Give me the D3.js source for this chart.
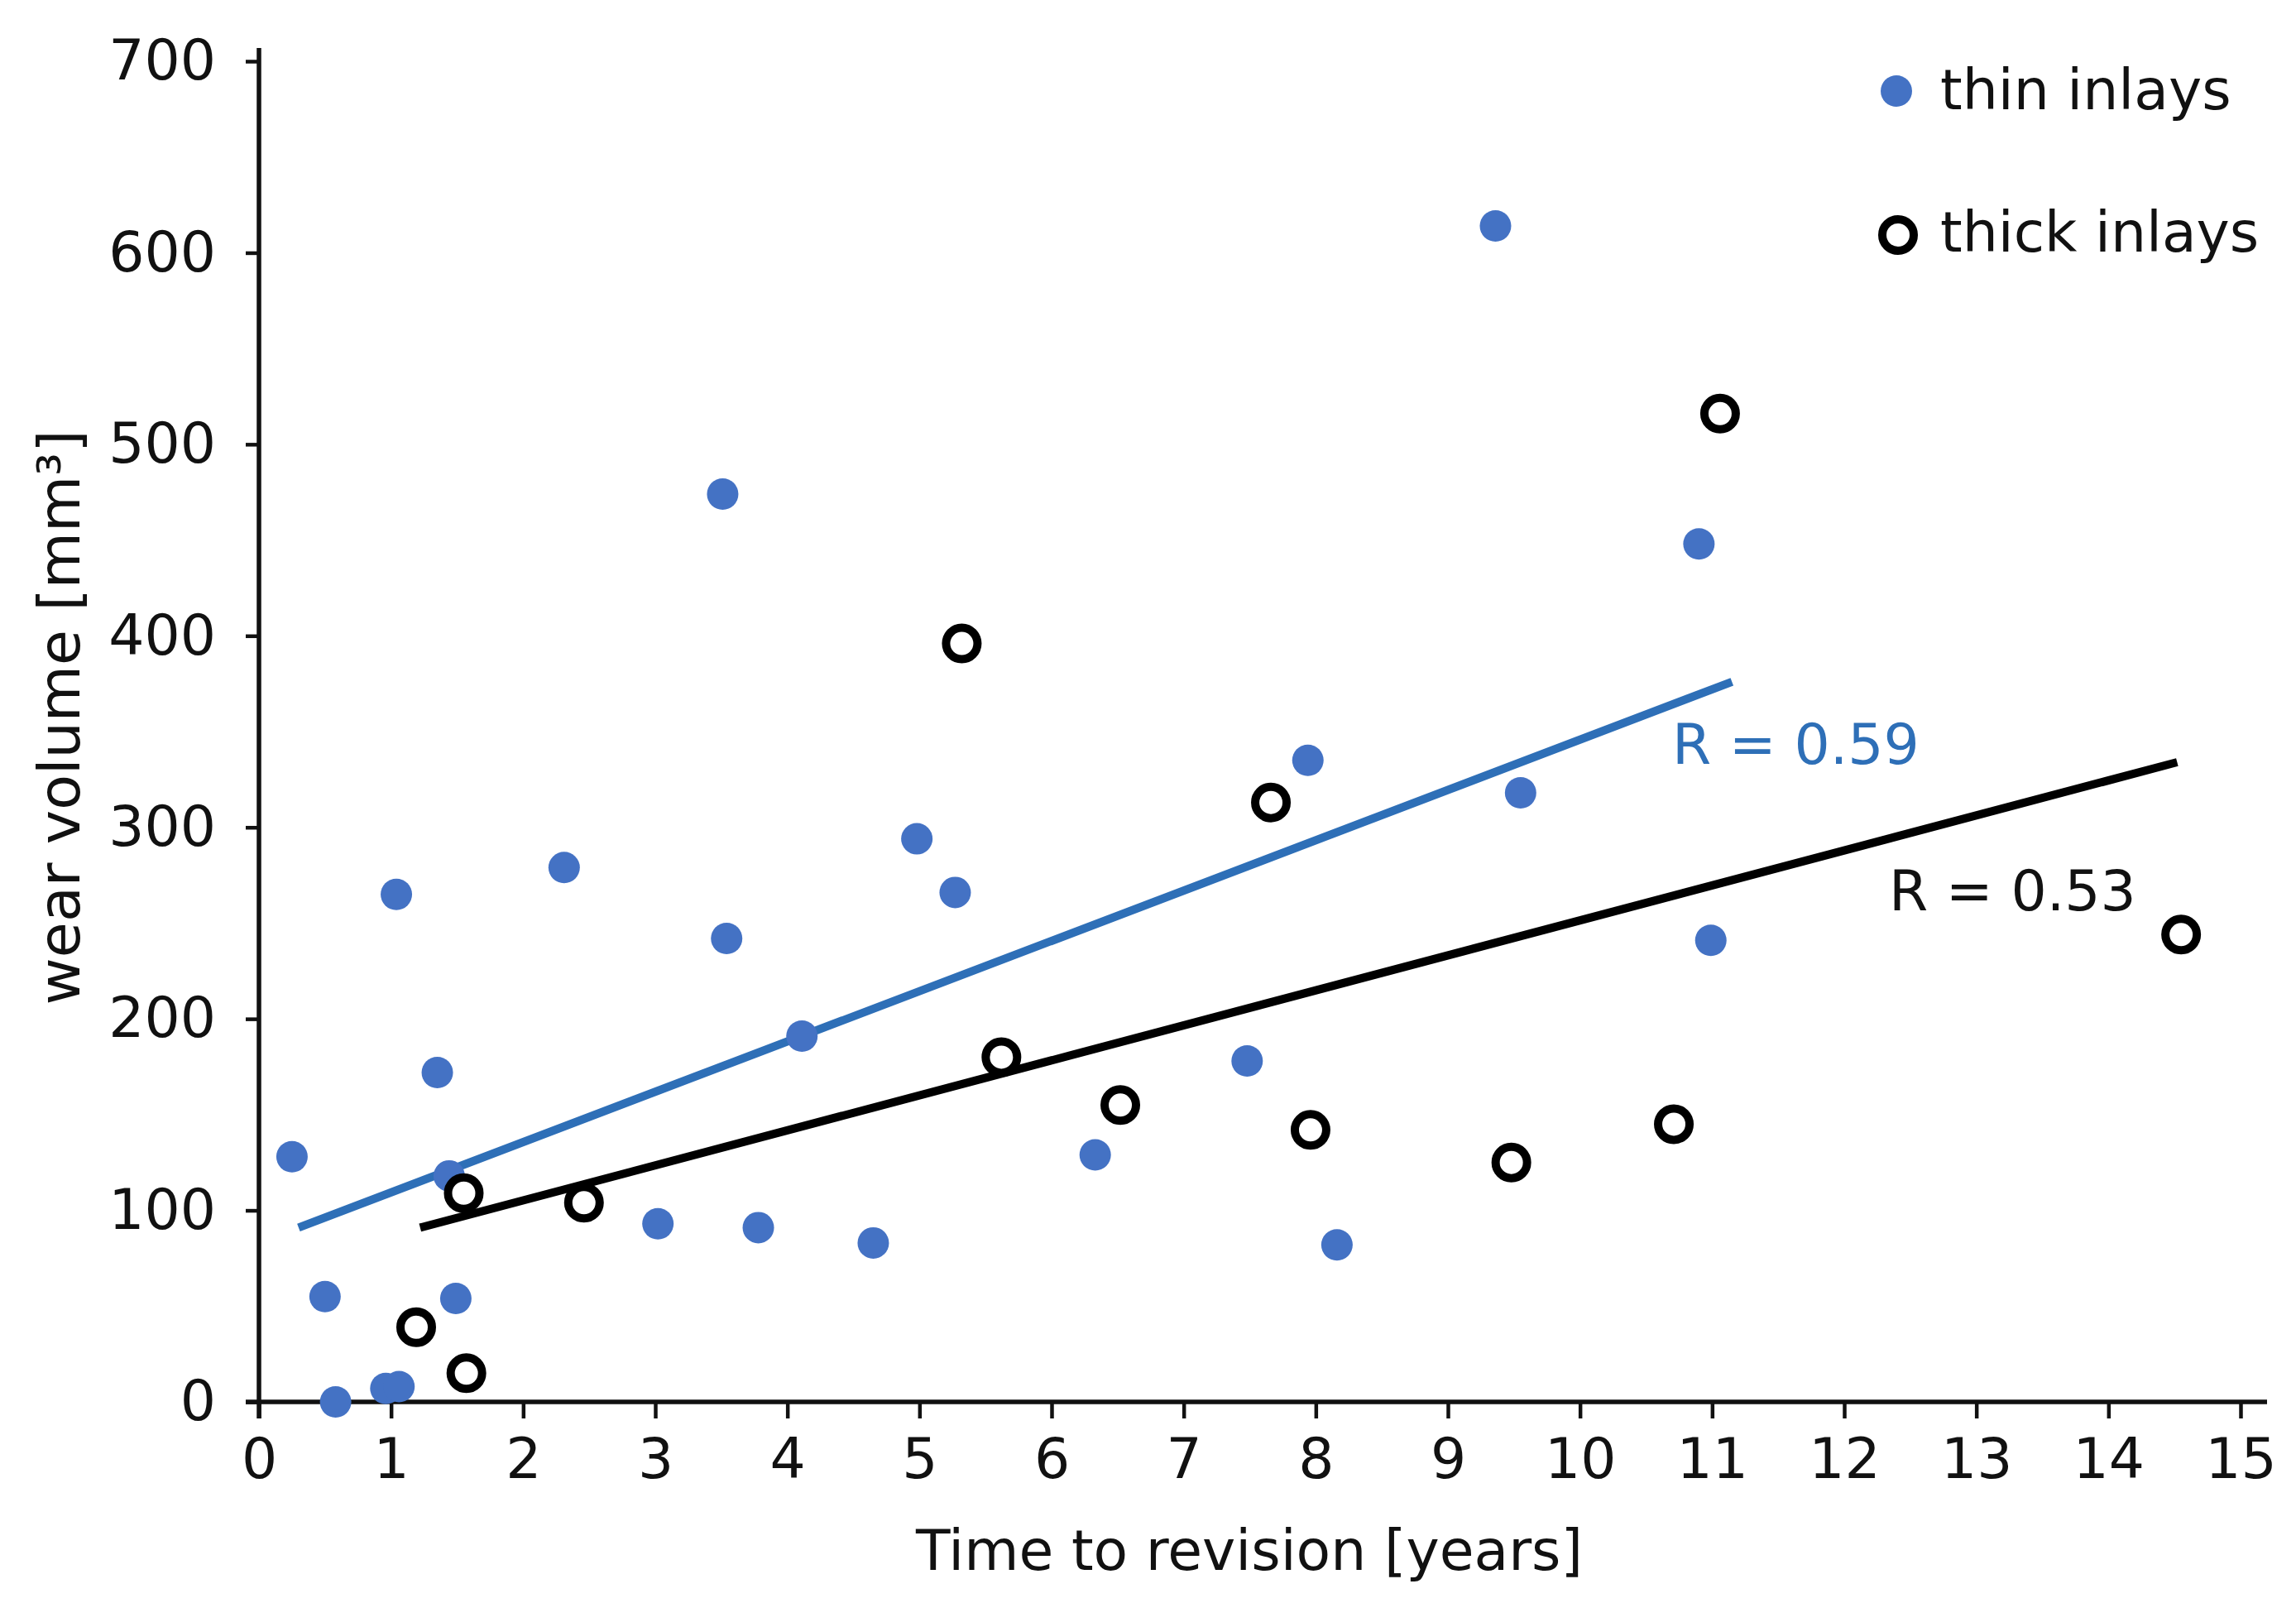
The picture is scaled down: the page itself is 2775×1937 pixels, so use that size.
<!DOCTYPE html>
<html>
<head>
<meta charset="utf-8">
<script src="https://cdn.jsdelivr.net/npm/d3@7"></script>
<style>
  body { margin: 0; background: #fff; }
  text { font-family: "DejaVu Sans", Verdana, sans-serif; fill: #111; }
</style>
</head>
<body>
<script>
"use strict";

var thinX = [0.25, 0.5, 0.58, 0.96, 1.06, 1.04, 1.35, 1.44, 1.49, 2.31, 3.02, 3.51, 3.54, 3.78, 4.11, 4.65, 4.98, 5.27, 6.33, 7.48, 7.94, 8.16, 9.36, 9.55, 10.9, 10.99];
var thinY = [128, 55, 0, 7, 8, 265, 172, 118, 54, 279, 93, 474, 242, 91, 191, 83, 294, 266, 129, 178, 335, 82, 614, 318, 448, 241];

var thickX = [1.19, 1.55, 1.57, 2.46, 5.32, 5.62, 6.52, 7.66, 7.96, 9.48, 10.71, 11.06, 14.55];
var thickY = [39, 109, 15, 104, 396, 180, 155, 313, 142, 125, 145, 516, 244];

// trend line end points [x, y]
var thinTrend = [[0.3, 91], [11.15, 376]];
var thickTrend = [[1.22, 91], [14.52, 334]];

var xTicks = d3.range(0, 16, 1);
var yTicks = d3.range(0, 701, 100);

var width = 2775, height = 1937;
var blue = "#4472c4", lineBlue = "#2e6fb7";
var fs = "68px";

var svg = d3.select("body").append("svg")
  .attr("width", width)
  .attr("height", height);

var x = d3.scaleLinear().domain([0, 15]).range([313, 2708]);
var y = d3.scaleLinear().domain([0, 700]).range([1694, 74]);

// axes
var xAxis = svg.append("g")
  .attr("transform", "translate(0," + y(0) + ")")
  .call(d3.axisBottom(x).tickValues(xTicks).tickSize(20).tickSizeOuter(0).tickPadding(24));
xAxis.select(".domain").remove();
xAxis.selectAll("line").attr("stroke", "#111").attr("stroke-width", 4.5);
xAxis.selectAll("text").style("font-size", fs).attr("fill", "#111");

var yAxis = svg.append("g")
  .attr("transform", "translate(" + x(0) + ",0)")
  .call(d3.axisLeft(y).tickValues(yTicks).tickSize(16).tickSizeOuter(0).tickPadding(36));
yAxis.select(".domain").remove();
yAxis.selectAll("line").attr("stroke", "#111").attr("stroke-width", 4.5);
yAxis.selectAll("text").style("font-size", fs).attr("fill", "#111");

svg.append("line")
  .attr("x1", x(0) - 16).attr("x2", 2740)
  .attr("y1", y(0)).attr("y2", y(0))
  .attr("stroke", "#111").attr("stroke-width", 5.5);
svg.append("line")
  .attr("x1", x(0)).attr("x2", x(0))
  .attr("y1", 58).attr("y2", y(0) + 20)
  .attr("stroke", "#111").attr("stroke-width", 5.5);

// axis titles
svg.append("text")
  .attr("x", 1510).attr("y", 1897)
  .attr("text-anchor", "middle")
  .style("font-size", fs)
  .text("Time to revision [years]");

svg.append("text")
  .attr("transform", "translate(96,867) rotate(-90)")
  .attr("text-anchor", "middle")
  .style("font-size", "70px")
  .text("wear volume [mm³]");

// trend lines
var line = d3.line().x(function(d) { return x(d[0]); }).y(function(d) { return y(d[1]); });

svg.append("path").datum(thinTrend)
  .attr("d", line).attr("stroke", lineBlue).attr("stroke-width", 10).attr("fill", "none");
svg.append("path").datum(thickTrend)
  .attr("d", line).attr("stroke", "#000").attr("stroke-width", 10).attr("fill", "none");

// points
for (var i = 0; i < thinX.length; i++) {
  svg.append("circle")
    .attr("cx", x(thinX[i])).attr("cy", y(thinY[i]))
    .attr("r", 19).attr("fill", blue);
}
for (var j = 0; j < thickX.length; j++) {
  svg.append("circle")
    .attr("cx", x(thickX[j])).attr("cy", y(thickY[j]))
    .attr("r", 19).attr("fill", "#fff")
    .attr("stroke", "#000").attr("stroke-width", 10);
}

// R labels
svg.append("text")
  .attr("x", 2021).attr("y", 923)
  .style("font-size", fs).style("fill", lineBlue)
  .text("R = 0.59");
svg.append("text")
  .attr("x", 2283).attr("y", 1100)
  .style("font-size", fs)
  .text("R = 0.53");

// legend
svg.append("circle").attr("cx", 2292).attr("cy", 110).attr("r", 19).attr("fill", blue);
svg.append("text").attr("x", 2345).attr("y", 132).style("font-size", fs).text("thin inlays");
svg.append("circle").attr("cx", 2294).attr("cy", 284).attr("r", 19)
  .attr("fill", "#fff").attr("stroke", "#000").attr("stroke-width", 10);
svg.append("text").attr("x", 2345).attr("y", 304).style("font-size", fs).text("thick inlays");
</script>
</body>
</html>
